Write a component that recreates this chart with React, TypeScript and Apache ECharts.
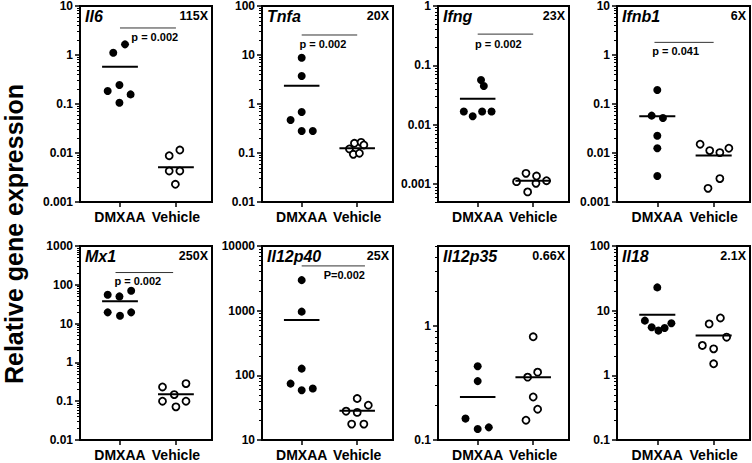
import React, { useEffect, useRef } from 'react';
import * as echarts from 'echarts';

// ---------- data ----------
const GROUPS = ['DMXAA', 'Vehicle'];
const GENES = ['Il6', 'Tnfa', 'Ifng', 'Ifnb1', 'Mx1', 'Il12p40', 'Il12p35', 'Il18'];
const FOLDS = ['115X', '20X', '23X', '6X', '250X', '25X', '0.66X', '2.1X'];
const Y_MIN = [0.001, 0.01, 0.0005, 0.001, 0.01, 10, 0.1, 0.1];
const Y_MAX = [10, 100, 1, 10, 1000, 10000, 5, 100];
const Y_TITLE = 'Relative gene expression';

const il6Dmxaa = [1.11, 1.65, 0.184, 0.244, 0.157, 0.106];
const il6DmxaaSpread = [-0.12, 0.09, -0.22, -0.01, 0.19, -0.01];
const il6Vehicle = [0.0088, 0.0115, 0.0043, 0.0043, 0.0023];
const il6VehicleSpread = [-0.12, 0.07, -0.12, 0.07, -0.01];

const tnfaDmxaa = [8.8, 3.73, 0.687, 0.471, 0.281, 0.281];
const tnfaDmxaaSpread = [0, 0, 0, -0.2, 0, 0.2];
const tnfaVehicle = [0.121, 0.158, 0.165, 0.146, 0.094, 0.099];
const tnfaVehicleSpread = [-0.14, -0.05, 0.07, 0.12, -0.07, 0.04];

const ifngDmxaa = [0.0568, 0.0448, 0.0167, 0.0139, 0.0167, 0.0167];
const ifngDmxaaSpread = [0.06, 0.11, -0.25, -0.09, 0.08, 0.25];
const ifngVehicle = [0.0011, 0.00152, 0.00137, 0.00114, 0.00103, 0.00074];
const ifngVehicleSpread = [-0.3, -0.13, 0.06, 0.24, 0.05, -0.1];

const ifnb1Dmxaa = [0.193, 0.058, 0.0519, 0.0225, 0.0125, 0.0034];
const ifnb1DmxaaSpread = [0, -0.1, 0.1, 0, 0, 0];
const ifnb1Vehicle = [0.0151, 0.0112, 0.0102, 0.0125, 0.003, 0.0019];
const ifnb1VehicleSpread = [-0.24, -0.07, 0.11, 0.27, 0.11, -0.1];

const mx1Dmxaa = [55.4, 50.2, 70.2, 19.5, 16.0, 19.5];
const mx1DmxaaSpread = [-0.22, -0.01, 0.2, -0.22, 0, 0.2];
const mx1Vehicle = [0.233, 0.148, 0.284, 0.1, 0.1, 0.0716];
const mx1VehicleSpread = [-0.24, -0.03, 0.18, -0.24, 0.18, 0];

const il12p40Dmxaa = [2966, 966, 127, 74.5, 58.8, 62.4];
const il12p40DmxaaSpread = [0, 0, 0, -0.2, 0, 0.2];
const il12p40Vehicle = [43.8, 27.9, 26.7, 34.5, 17.6, 17.6];
const il12p40VehicleSpread = [0, -0.2, 0, 0.2, -0.1, 0.12];

const il12p35Dmxaa = [0.443, 0.328, 0.154, 0.125, 0.129];
const il12p35DmxaaSpread = [0, 0, -0.22, 0, 0.2];
const il12p35Vehicle = [0.802, 0.355, 0.393, 0.238, 0.186, 0.149];
const il12p35VehicleSpread = [0, -0.1, 0.08, 0, 0.08, -0.13];

const il18Dmxaa = [22.9, 7.01, 5.55, 4.92, 5.41, 6.38];
const il18DmxaaSpread = [0, -0.22, -0.1, 0.02, 0.13, 0.25];
const il18Vehicle = [6.24, 7.71, 3.89, 2.9, 2.57, 1.51];
const il18VehicleSpread = [-0.08, 0.12, 0.23, -0.2, 0, 0];

const DMXAA_MEANS = [0.578, 2.36, 0.0275, 0.0562, 37.4, 718, 0.238, 8.67];
const VEHICLE_MEANS = [0.0051, 0.125, 0.00114, 0.00885, 0.151, 28.3, 0.355, 4.12];

const P_LABELS = ['p = 0.002', 'p = 0.002', 'p = 0.002', 'p = 0.041', 'p = 0.002', 'P=0.002', '', ''];
const P_LINE_VALUES = [3.56, 25.6, 0.336, 1.81, 207, 4920, 0, 0];
const P_TEXT_VALUES = [2.33, 16.7, 0.232, 1.19, 127, 3540, 0, 0];

const DMXAA_SETS = [il6Dmxaa, tnfaDmxaa, ifngDmxaa, ifnb1Dmxaa, mx1Dmxaa, il12p40Dmxaa, il12p35Dmxaa, il18Dmxaa];
const DMXAA_SPREADS = [il6DmxaaSpread, tnfaDmxaaSpread, ifngDmxaaSpread, ifnb1DmxaaSpread, mx1DmxaaSpread, il12p40DmxaaSpread, il12p35DmxaaSpread, il18DmxaaSpread];
const VEHICLE_SETS = [il6Vehicle, tnfaVehicle, ifngVehicle, ifnb1Vehicle, mx1Vehicle, il12p40Vehicle, il12p35Vehicle, il18Vehicle];
const VEHICLE_SPREADS = [il6VehicleSpread, tnfaVehicleSpread, ifngVehicleSpread, ifnb1VehicleSpread, mx1VehicleSpread, il12p40VehicleSpread, il12p35VehicleSpread, il18VehicleSpread];

// ---------- layout ----------
const FONT = '"Liberation Sans", Arial, Helvetica, sans-serif';
const PANELS = [
  { left: 80, top: 6, width: 132, height: 196 },
  { left: 262, top: 6, width: 131, height: 196 },
  { left: 438, top: 6, width: 131, height: 196 },
  { left: 617, top: 6, width: 133, height: 196 },
  { left: 80, top: 246, width: 132, height: 194 },
  { left: 262, top: 246, width: 131, height: 194 },
  { left: 438, top: 246, width: 131, height: 194 },
  { left: 617, top: 246, width: 133, height: 194 },
];
const X_MIN = -0.715;
const X_MAX = 1.645;
const MEAN_HALF = 0.32;
// bracket [start, end] and text anchor [x, align]
const P_LINE_X = [[0, 1], [0, 1], [0, 1], [-0.05, 1], [-0.08, 0.95], [0, 1.14]];
const P_TEXT_X: [number, string][] = [[1.04, 'right'], [-0.04, 'left'], [-0.05, 'left'], [-0.09, 'left'], [-0.1, 'left'], [1.14, 'right']];

const lg = (v: number) => Math.log10(v);
const fmtPow = (v: number) => {
  const p = Math.round(v);
  return p >= 0 ? String(Math.pow(10, p)) : Math.pow(10, p).toFixed(-p);
};

function majorTicks(lo: number, hi: number) {
  const out: number[] = [];
  for (let p = Math.ceil(lo - 1e-9); p <= Math.floor(hi + 1e-9); p++) out.push(p);
  return out;
}
function minorTicks(lo: number, hi: number) {
  const out: number[] = [];
  for (let d = Math.floor(lo); d < Math.ceil(hi); d++) {
    for (let k = 2; k <= 9; k++) {
      const v = d + Math.log10(k);
      if (v >= lo - 1e-9 && v <= hi + 1e-9) out.push(v);
    }
  }
  return out;
}

function buildOption() {
  const grid: any[] = [];
  const xAxis: any[] = [];
  const yAxis: any[] = [];
  const series: any[] = [];
  const graphic: any[] = [];

  PANELS.forEach((p, i) => {
    const lo = lg(Y_MIN[i]);
    const hi = lg(Y_MAX[i]);
    grid.push({ ...p, show: true, borderColor: '#000', borderWidth: 2, backgroundColor: 'transparent' });
    xAxis.push({
      type: 'value', gridIndex: i, min: X_MIN, max: X_MAX,
      axisLine: { show: true, onZero: false, lineStyle: { color: '#000', width: 2 } },
      axisTick: { show: true, customValues: [0, 1], length: 5, lineStyle: { color: '#000', width: 1.5 } },
      axisLabel: {
        show: true, customValues: [0, 1], margin: 8,
        formatter: (v: number) => GROUPS[Math.round(v)] ?? '',
        fontFamily: FONT, fontSize: 14, fontWeight: 'bold', color: '#000',
      },
      splitLine: { show: false },
    });
    const majors = majorTicks(lo, hi);
    yAxis.push({
      type: 'value', gridIndex: i, min: lo, max: hi, position: 'left',
      axisLine: { show: true, onZero: false, lineStyle: { color: '#000', width: 2 } },
      axisTick: { show: true, customValues: majors, length: 5, lineStyle: { color: '#000', width: 1.5 } },
      axisLabel: {
        show: true, customValues: majors, margin: 7, formatter: fmtPow,
        fontFamily: FONT, fontSize: 12, fontWeight: 'bold', color: '#000',
      },
      splitLine: { show: false },
    });
    yAxis.push({
      type: 'value', gridIndex: i, min: lo, max: hi, position: 'left',
      axisLine: { show: false, onZero: false },
      axisTick: { show: true, customValues: minorTicks(lo, hi), length: 3, lineStyle: { color: '#000', width: 1 } },
      axisLabel: { show: false },
      splitLine: { show: false },
    });
    const yIdx = 2 * i;

    // mean lines
    [DMXAA_MEANS[i], VEHICLE_MEANS[i]].forEach((m, g) => {
      series.push({
        type: 'line', xAxisIndex: i, yAxisIndex: yIdx, symbol: 'none', silent: true,
        lineStyle: { color: '#000', width: 2, opacity: 1 },
        data: [[g - MEAN_HALF, lg(m)], [g + MEAN_HALF, lg(m)]],
      });
    });

    // p-value bracket
    if (P_LABELS[i]) {
      series.push({
        type: 'line', xAxisIndex: i, yAxisIndex: yIdx, symbol: 'none', silent: true,
        lineStyle: { color: '#333', width: 1, opacity: 1 },
        data: [[P_LINE_X[i][0], lg(P_LINE_VALUES[i])], [P_LINE_X[i][1], lg(P_LINE_VALUES[i])]],
      });
      series.push({
        type: 'scatter', xAxisIndex: i, yAxisIndex: yIdx, symbolSize: 1, silent: true,
        itemStyle: { color: 'rgba(0,0,0,0)', opacity: 1 },
        label: {
          show: true, position: 'inside', formatter: P_LABELS[i],
          align: P_TEXT_X[i][1], verticalAlign: 'middle',
          fontFamily: FONT, fontSize: 11, fontWeight: 'bold', color: '#000',
        },
        data: [[P_TEXT_X[i][0], lg(P_TEXT_VALUES[i])]],
      });
    }

    // points
    series.push({
      type: 'scatter', name: GROUPS[0], xAxisIndex: i, yAxisIndex: yIdx, symbol: 'circle', symbolSize: 8,
      itemStyle: { color: '#000', opacity: 1 }, silent: true,
      data: DMXAA_SETS[i].map((v, k) => [DMXAA_SPREADS[i][k], lg(v)]),
    });
    series.push({
      type: 'scatter', name: GROUPS[1], xAxisIndex: i, yAxisIndex: yIdx, symbol: 'circle', symbolSize: 7,
      itemStyle: { color: '#fff', borderColor: '#000', borderWidth: 1.8, opacity: 1 }, silent: true,
      data: VEHICLE_SETS[i].map((v, k) => [1 + VEHICLE_SPREADS[i][k], lg(v)]),
    });

    // titles
    graphic.push({
      type: 'text', x: p.left + 5, y: p.top + 10,
      style: { text: GENES[i], fontFamily: FONT, fontSize: 16, fontWeight: 'bold', fontStyle: 'italic', fill: '#000', align: 'left', verticalAlign: 'middle' },
    });
    graphic.push({
      type: 'text', x: p.left + p.width - 4, y: p.top + 10,
      style: { text: FOLDS[i], fontFamily: FONT, fontSize: 12.5, fontWeight: 'bold', fill: '#000', align: 'right', verticalAlign: 'middle' },
    });
  });

  graphic.push({
    type: 'text', x: 14, y: 234, rotation: Math.PI / 2,
    style: { text: Y_TITLE, fontFamily: FONT, fontSize: 25, fontWeight: 'bold', fill: '#000', align: 'center', verticalAlign: 'middle' },
  });

  return {
    animation: false,
    backgroundColor: '#fff',
    grid, xAxis, yAxis, series, graphic,
  };
}

export default function App() {
  const ref = useRef<HTMLDivElement>(null);
  useEffect(() => {
    if (!ref.current) return;
    const chart = echarts.init(ref.current, undefined, { renderer: 'svg' });
    chart.setOption(buildOption() as any);
    return () => chart.dispose();
  }, []);
  return (
    <div
      ref={ref}
      style={{ position: 'fixed', left: 0, top: 0, width: 752, height: 463, background: '#fff' }}
    />
  );
}
